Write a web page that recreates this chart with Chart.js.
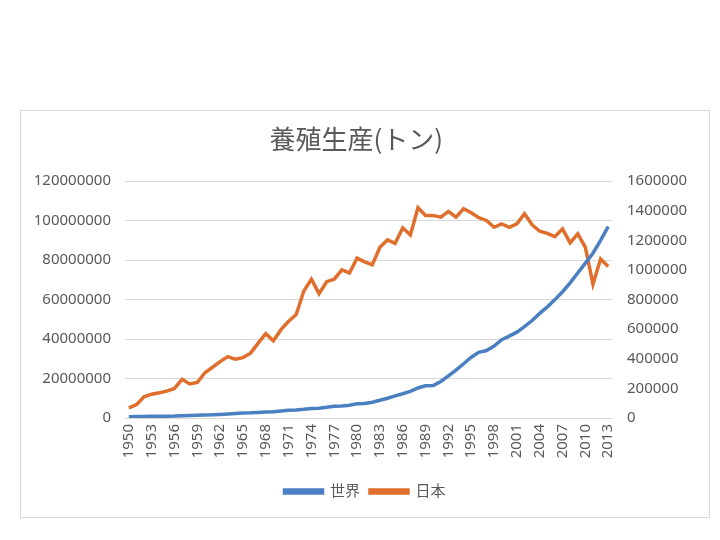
<!DOCTYPE html>
<html>
<head>
<meta charset="utf-8">
<script src="https://cdn.jsdelivr.net/npm/chart.js@4"></script>
<style>
    body { margin: 0; background: #fff; }
    .frame {
        position: absolute; left: 20px; top: 110px;
        width: 690px; height: 408px;
        box-sizing: border-box; border: 1px solid #d9d9d9;
    }
    .chart-container { position: relative; width: 688px; height: 406px; }
</style>
</head>
<body>
<div class="frame">
    <div class="chart-container"><canvas id="aqua"></canvas></div>
</div>
<script>
// années 1950 - 2013
const annees = [];
for (let a = 1950; a <= 2013; a++) annees.push(String(a));

// 世界 (tonnes, axe gauche)
const monde = [
    600000, 700000, 800000, 850000, 900000, 950000, 1000000, 1200000, 1300000, 1400000,
    1500000, 1600000, 1800000, 2000000, 2300000, 2500000, 2600000, 2800000, 3000000, 3200000,
    3500000, 3900000, 4100000, 4400000, 4800000, 5000000, 5400000, 6000000, 6100000, 6500000,
    7200000, 7300000, 8000000, 9000000, 10000000, 11200000, 12300000, 13500000, 15200000, 16300000,
    16500000, 18500000, 21300000, 24300000, 27500000, 30800000, 33300000, 34200000, 36500000, 39700000,
    41500000, 43500000, 46300000, 49400000, 53000000, 56300000, 60000000, 64000000, 68500000, 73500000,
    78500000, 83500000, 90000000, 97000000
];

// 日本 (tonnes, axe droit)
const japon = [
    68000, 90000, 143000, 161000, 170000, 182000, 200000, 261000, 230000, 240000,
    306000, 343000, 381000, 415000, 397000, 408000, 438000, 506000, 570000, 522000,
    597000, 654000, 699000, 858000, 938000, 840000, 921000, 938000, 1001000, 980000,
    1080000, 1055000, 1035000, 1153000, 1203000, 1180000, 1285000, 1237000, 1421000, 1369000,
    1369000, 1357000, 1396000, 1357000, 1414000, 1387000, 1353000, 1335000, 1289000, 1312000,
    1289000, 1312000, 1380000, 1305000, 1262000, 1248000, 1226000, 1278000, 1183000, 1244000,
    1153000, 904000, 1074000, 1023000
];

const gris = '#595959';
const police = "'Noto Sans', 'Noto Sans CJK JP', sans-serif";

const ctx = document.getElementById('aqua').getContext('2d');
const myChart = new Chart(ctx, {
    type: 'line',
    data: {
        labels: annees,
        datasets: [{
            label: '世界',
            data: monde,
            yAxisID: 'y',
            borderColor: '#4a7fc1',
            backgroundColor: '#4a7fc1',
            borderWidth: 3.5,
            pointRadius: 0,
            tension: 0,
        }, {
            label: '日本',
            data: japon,
            yAxisID: 'y1',
            borderColor: '#e06e2d',
            backgroundColor: '#e06e2d',
            borderWidth: 3.5,
            pointRadius: 0,
            tension: 0,
        }]
    },
    options: {
        responsive: true,
        maintainAspectRatio: false,
        animation: false,
        layout: { padding: { left: 0, right: 0, top: 0, bottom: 8 } },
        plugins: {
            title: {
                display: true,
                text: '養殖生産(トン)   ',
                color: gris,
                font: { family: "'Noto Sans CJK JP', sans-serif", size: 26, weight: 'normal' },
                padding: { top: 13, bottom: 26 },
            },
            legend: {
                position: 'bottom',
                labels: {
                    color: gris,
                    font: { family: police, size: 15 },
                    boxWidth: 38,
                    boxHeight: 3,
                    padding: 10,
                },
            },
            tooltip: { enabled: false },
        },
        scales: {
            x: {
                offset: true,
                grid: { display: false, drawTicks: false },
                border: { display: true, color: '#d9d9d9' },
                ticks: {
                    autoSkip: false,
                    minRotation: 90,
                    maxRotation: 90,
                    padding: 6,
                    color: gris,
                    font: { family: police, size: 15 },
                    callback: function (value, index) {
                        return (index % 3 === 0) ? annees[index] : '';
                    },
                },
                afterFit: function (scale) { scale.height = 56; },
            },
            y: {
                position: 'left',
                min: 0,
                max: 120000000,
                grid: { color: '#d9d9d9', drawTicks: false },
                border: { display: false },
                ticks: {
                    stepSize: 20000000,
                    padding: 14,
                    color: gris,
                    font: { family: police, size: 15 },
                    callback: function (value) { return String(value); },
                },
                afterFit: function (scale) { scale.width = 104; },
            },
            y1: {
                position: 'right',
                min: 0,
                max: 1600000,
                grid: { display: false, drawTicks: false },
                border: { display: false },
                ticks: {
                    stepSize: 200000,
                    padding: 15,
                    color: gris,
                    font: { family: police, size: 15 },
                    callback: function (value) { return String(value); },
                },
                afterFit: function (scale) { scale.width = 97; },
            },
        },
    }
});
</script>
</body>
</html>
